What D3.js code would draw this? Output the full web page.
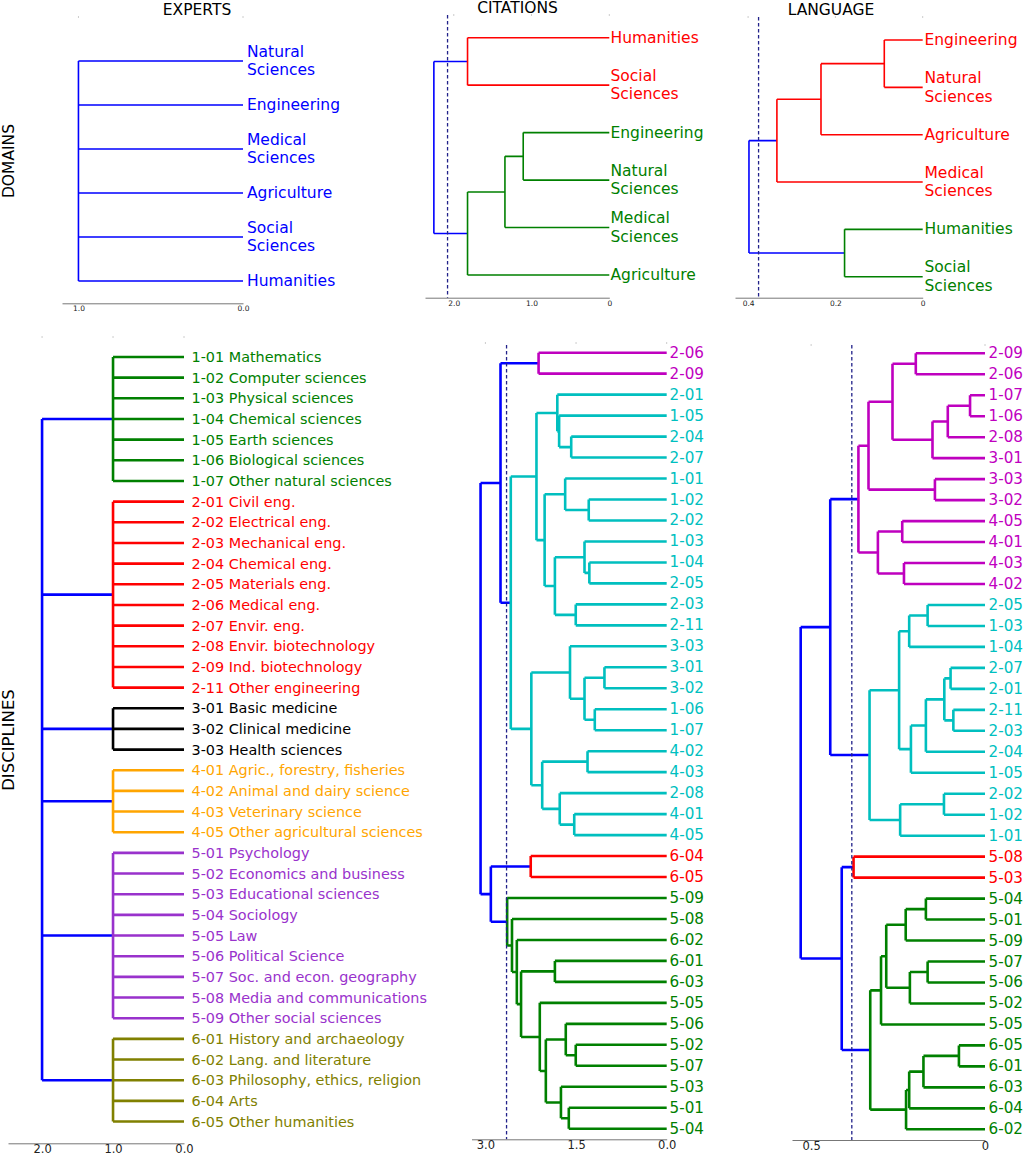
<!DOCTYPE html>
<html>
<head>
<meta charset="utf-8">
<script src="https://cdn.jsdelivr.net/npm/d3@7"></script>
<style>
  body { margin: 0; background: #fff; }
  svg { font-family: "DejaVu Sans", sans-serif; }
</style>
</head>
<body>
<svg id="chart" width="1028" height="1155"></svg>
<script>
// Trees are nested arrays: [height, child, child, ...]; leaves are names.
const expertsDomainTree = [1.0, 'Natural Sciences', 'Engineering', 'Medical Sciences', 'Agriculture', 'Social Sciences', 'Humanities'];

const citationsDomainTree = [2.256,
    [1.823, 'Humanities', 'Social Sciences'],
    [1.823, [1.342, [1.107, 'Engineering', 'Natural Sciences'], 'Medical Sciences'], 'Agriculture']];

const languageDomainTree = [0.398,
    [0.334, [0.233, [0.088, 'Engineering', 'Natural Sciences'], 'Agriculture'], 'Medical Sciences'],
    [0.179, 'Humanities', 'Social Sciences']];

const disciplineCodes = ['1-01', '1-02', '1-03', '1-04', '1-05', '1-06', '1-07',
    '2-01', '2-02', '2-03', '2-04', '2-05', '2-06', '2-07', '2-08', '2-09', '2-11',
    '3-01', '3-02', '3-03', '4-01', '4-02', '4-03', '4-05',
    '5-01', '5-02', '5-03', '5-04', '5-05', '5-06', '5-07', '5-08', '5-09',
    '6-01', '6-02', '6-03', '6-04', '6-05'];

const disciplineNames = ['Mathematics', 'Computer sciences', 'Physical sciences', 'Chemical sciences',
    'Earth sciences', 'Biological sciences', 'Other natural sciences',
    'Civil eng.', 'Electrical eng.', 'Mechanical eng.', 'Chemical eng.', 'Materials eng.',
    'Medical eng.', 'Envir. eng.', 'Envir. biotechnology', 'Ind. biotechnology', 'Other engineering',
    'Basic medicine', 'Clinical medicine', 'Health sciences',
    'Agric., forestry, fisheries', 'Animal and dairy science', 'Veterinary science', 'Other agricultural sciences',
    'Psychology', 'Economics and business', 'Educational sciences', 'Sociology', 'Law',
    'Political Science', 'Soc. and econ. geography', 'Media and communications', 'Other social sciences',
    'History and archaeology', 'Lang. and literature', 'Philosophy, ethics, religion', 'Arts', 'Other humanities'];

const expertsDiscTree = [2.0,
    [1.0, '1-01', '1-02', '1-03', '1-04', '1-05', '1-06', '1-07'],
    [1.0, '2-01', '2-02', '2-03', '2-04', '2-05', '2-06', '2-07', '2-08', '2-09', '2-11'],
    [1.0, '3-01', '3-02', '3-03'],
    [1.0, '4-01', '4-02', '4-03', '4-05'],
    [1.0, '5-01', '5-02', '5-03', '5-04', '5-05', '5-06', '5-07', '5-08', '5-09'],
    [1.0, '6-01', '6-02', '6-03', '6-04', '6-05']];

const citationsDiscTree = [3.08,
    [2.75,
        [2.12, '2-06', '2-09'],
        [2.58,
            [2.155,
                [1.81, '2-01', [1.78, '1-05', [1.58, '2-04', '2-07']]],
                [2.02,
                    [1.68, '1-01', [1.29, '1-02', '2-02']],
                    [1.85,
                        [1.36, '1-03', [1.28, '1-04', '2-05']],
                        [1.505, '2-03', '2-11']]]],
            [2.24,
                [1.60, '3-03', [1.36, [1.03, '3-01', '3-02'], [1.19, '1-06', '1-07']]],
                [2.06, [1.31, '4-02', '4-03'], [1.77, '2-08', [1.53, '4-01', '4-05']]]]]],
    [2.91,
        [2.25, '6-04', '6-05'],
        [2.64, '5-09',
            [2.56, '5-08',
                [2.48, '6-02',
                    [2.41, [1.85, '6-01', '6-03'],
                        [2.10, '5-05',
                            [2.0,
                                [1.67, '5-06', [1.505, '5-02', '5-07']],
                                [1.75, '5-03', [1.62, '5-01', '5-04']]]]]]]]]];

const languageDiscTree = [0.53,
    [0.445,
        [0.364,
            [0.335,
                [0.266, [0.199, '2-09', '2-06'], [0.151, [0.107, [0.043, '1-07', '1-06'], '2-08'], '3-01']],
                [0.144, '3-03', '3-02']],
            [0.308, [0.238, '4-05', '4-01'], [0.233, '4-03', '4-02']]],
        [0.332,
            [0.247,
                [0.218, [0.165, '2-05', '1-03'], '1-04'],
                [0.213, [0.170, [0.117, [0.099, '2-07', '2-01'], [0.091, '2-11', '2-03']], '2-04'], '1-05']],
            [0.244, [0.118, '2-02', '1-02'], '1-01']]],
    [0.412,
        [0.378, '5-08', '5-03'],
        [0.330,
            [0.299, [0.284, [0.228, [0.170, '5-04', '5-01'], '5-09'], [0.216, [0.165, '5-07', '5-06'], '5-02']], '5-05'],
            [0.227, [0.218, [0.177, [0.075, '6-05', '6-01'], '6-03'], '6-04'], '6-02']]]];

// Axis ticks and cut-off heights.
const expertsDomainTicks = [1.0, 0];
const expertsDomainTickLabels = ['1.0', '0.0'];
const citationsDomainTicks = [2, 1, 0];
const citationsDomainTickLabels = ['2.0', '1.0', '0'];
const languageDomainTicks = [0.4, 0.2, 0];
const languageDomainTickLabels = ['0.4', '0.2', '0'];
const expertsDiscTicks = [2, 1, 0];
const expertsDiscTickLabels = ['2.0', '1.0', '0.0'];
const citationsDiscTicks = [3, 1.5, 0];
const citationsDiscTickLabels = ['3.0', '1.5', '0.0'];
const languageDiscTicks = [0.5, 0];
const languageDiscTickLabels = ['0.5', '0'];

const cutoffs = { expertsDomain: 0.5, citationsDomain: 2.08, languageDomain: 0.376,
    expertsDisc: 1.5, citationsDisc: 2.65, languageDisc: 0.383 };

// Cluster colours, in order from top to bottom.
const citationsDomainColors = ['#ff0000', '#008000'];
const languageDomainColors = ['#ff0000', '#008000'];
const expertsDiscColors = ['#008000', '#ff0000', '#000000', '#ffa500', '#9932cc', '#808000'];
const citationsDiscColors = ['#bf00bf', '#00bfbf', '#ff0000', '#008000'];
const languageDiscColors = ['#bf00bf', '#00bfbf', '#ff0000', '#008000'];

const titles = ['EXPERTS', 'CITATIONS', 'LANGUAGE'];
const rowTitles = ['DOMAINS', 'DISCIPLINES'];

const BLUE = '#0000ff';
const svg = d3.select('#chart');

const nodeHeight = d => Array.isArray(d.data) ? d.data[0] : 0;

/**
 * Draw one dendrogram, scipy style: leaves at the right, heights growing to the left.
 */
const drawDendrogram = (opts) => {

    const g = svg.append('g');
    const root = d3.hierarchy(opts.tree, d => Array.isArray(d) ? d.slice(1) : null);
    const leaves = root.leaves();

    const x = d3.scaleLinear().domain([opts.xMax, 0]).range(opts.xRange);
    const y = d3.scaleLinear().domain([0, leaves.length - 1]).range(opts.yRange);

    leaves.forEach((d, i) => { d.py = y(i); });
    root.eachAfter(d => { if (d.children) d.py = d3.mean(d.children, c => c.py); });

    // Colour every cluster that sits below the cut-off.
    let ci = 0;
    root.eachBefore(d => {
        if (d.parent && d.parent.color !== BLUE) d.color = d.parent.color;
        else if (d.children && nodeHeight(d) < opts.cutoff) d.color = opts.colors[ci++];
        else d.color = BLUE;
    });

    // Faint ticks along the top.
    g.selectAll('line.top-tick').data(opts.ticks).join('line')
        .attr('x1', d => x(d)).attr('x2', d => x(d))
        .attr('y1', opts.topTickY).attr('y2', opts.topTickY + 2)
        .attr('stroke', '#ccc').attr('stroke-width', 1);

    g.selectAll('path.link').data(root.descendants().filter(d => d.children)).join('path')
        .attr('fill', 'none')
        .attr('stroke', d => d.color)
        .attr('stroke-width', opts.strokeWidth)
        .attr('d', d => {
            const xn = x(nodeHeight(d));
            const ys = d.children.map(c => c.py);
            let p = `M${xn},${d3.min(ys)}V${d3.max(ys)}`;
            d.children.forEach(c => { p += `M${xn},${c.py}H${x(nodeHeight(c))}`; });
            return p;
        });

    if (opts.dashed) {
        g.append('line')
            .attr('x1', x(opts.cutoff)).attr('x2', x(opts.cutoff))
            .attr('y1', opts.dashTop).attr('y2', opts.axisY)
            .attr('stroke', '#22228a').attr('stroke-width', 1.3)
            .attr('stroke-dasharray', '3.5,2.5');
    }

    // Leaf labels, split over lines where asked.
    const labels = g.selectAll('text.leaf').data(leaves).join('text')
        .attr('x', opts.labelX)
        .attr('y', d => d.py)
        .attr('fill', d => d.color)
        .attr('font-size', opts.fontSize)
        .attr('dominant-baseline', 'central');

    labels.each(function (d) {
        const lines = opts.label(d.data);
        const t = d3.select(this);
        lines.forEach((line, i) => {
            t.append('tspan')
                .attr('x', opts.labelX)
                .attr('dy', i === 0 ? -(lines.length - 1) * opts.lineGap / 2 : opts.lineGap)
                .text(line);
        });
    });

    const axis = d3.axisBottom(x)
        .tickValues(opts.ticks)
        .tickFormat((d, i) => opts.tickLabels[i])
        .tickSize(0)
        .tickPadding(opts.tickPadding);

    const ax = g.append('g').attr('transform', `translate(0,${opts.axisY})`).call(axis);
    ax.select('.domain').attr('stroke', '#777').attr('stroke-width', 1);
    ax.selectAll('text').attr('font-size', opts.tickFont).attr('fill', '#222')
        .attr('font-family', '"DejaVu Sans", sans-serif');

};

const domainLabel = name => name.split(' ');
const codeLabel = code => [code];
const fullLabel = code => [`${code} ${disciplineNames[disciplineCodes.indexOf(code)]}`];

const topRow = { fontSize: 15.5, lineGap: 18.5, strokeWidth: 1.6, tickFont: 7.5, tickPadding: 2.5 };
const bottomRow = { lineGap: 0, strokeWidth: 2.6, tickFont: 11.5, tickPadding: 2 };

drawDendrogram({ ...topRow, tree: expertsDomainTree, xMax: 1.1, xRange: [62, 243], yRange: [61, 281],
    axisY: 303.3, ticks: expertsDomainTicks, tickLabels: expertsDomainTickLabels,
    cutoff: cutoffs.expertsDomain, colors: [], dashed: false, topTickY: 16,
    labelX: 247, label: domainLabel });

drawDendrogram({ ...topRow, tree: citationsDomainTree, xMax: 2.37, xRange: [425, 609.3], yRange: [37.7, 275],
    axisY: 297.7, ticks: citationsDomainTicks, tickLabels: citationsDomainTickLabels,
    cutoff: cutoffs.citationsDomain, colors: citationsDomainColors, dashed: true, dashTop: 15, topTickY: 14,
    labelX: 610.5, label: domainLabel });

drawDendrogram({ ...topRow, tree: languageDomainTree, xMax: 0.43, xRange: [735, 922.7], yRange: [40, 276.7],
    axisY: 297.7, ticks: languageDomainTicks, tickLabels: languageDomainTickLabels,
    cutoff: cutoffs.languageDomain, colors: languageDomainColors, dashed: true, dashTop: 17, topTickY: 16,
    labelX: 924.5, label: domainLabel });

drawDendrogram({ ...bottomRow, tree: expertsDiscTree, xMax: 2.48, xRange: [8, 184], yRange: [357, 1121.5],
    axisY: 1143.3, ticks: expertsDiscTicks, tickLabels: expertsDiscTickLabels,
    cutoff: cutoffs.expertsDisc, colors: expertsDiscColors, dashed: false, topTickY: 336,
    fontSize: 14.4, labelX: 191.5, label: fullLabel });

drawDendrogram({ ...bottomRow, tree: citationsDiscTree, xMax: 3.23, xRange: [471.5, 666.7], yRange: [352.7, 1128.7],
    axisY: 1139.3, ticks: citationsDiscTicks, tickLabels: citationsDiscTickLabels,
    cutoff: cutoffs.citationsDisc, colors: citationsDiscColors, dashed: true, dashTop: 345, topTickY: 342,
    fontSize: 15.2, labelX: 669.5, label: codeLabel });

drawDendrogram({ ...bottomRow, tree: languageDiscTree, xMax: 0.555, xRange: [792, 985], yRange: [353.3, 1129.3],
    axisY: 1140, ticks: languageDiscTicks, tickLabels: languageDiscTickLabels,
    cutoff: cutoffs.languageDisc, colors: languageDiscColors, dashed: true, dashTop: 345, topTickY: 344,
    fontSize: 15.2, labelX: 988.5, label: codeLabel });

// Column titles and row labels.
svg.selectAll('text.title').data(titles).join('text')
    .attr('x', (d, i) => [197, 517.5, 831][i])
    .attr('y', (d, i) => [15, 12.5, 15][i])
    .attr('text-anchor', 'middle')
    .attr('font-size', 15.5)
    .attr('fill', '#000')
    .text(d => d);

svg.selectAll('text.row').data(rowTitles).join('text')
    .attr('transform', (d, i) => `translate(14,${[161, 740][i]}) rotate(-90)`)
    .attr('text-anchor', 'middle')
    .attr('font-size', (d, i) => [15.5, 16.5][i])
    .attr('fill', '#000')
    .text(d => d);
</script>
</body>
</html>
